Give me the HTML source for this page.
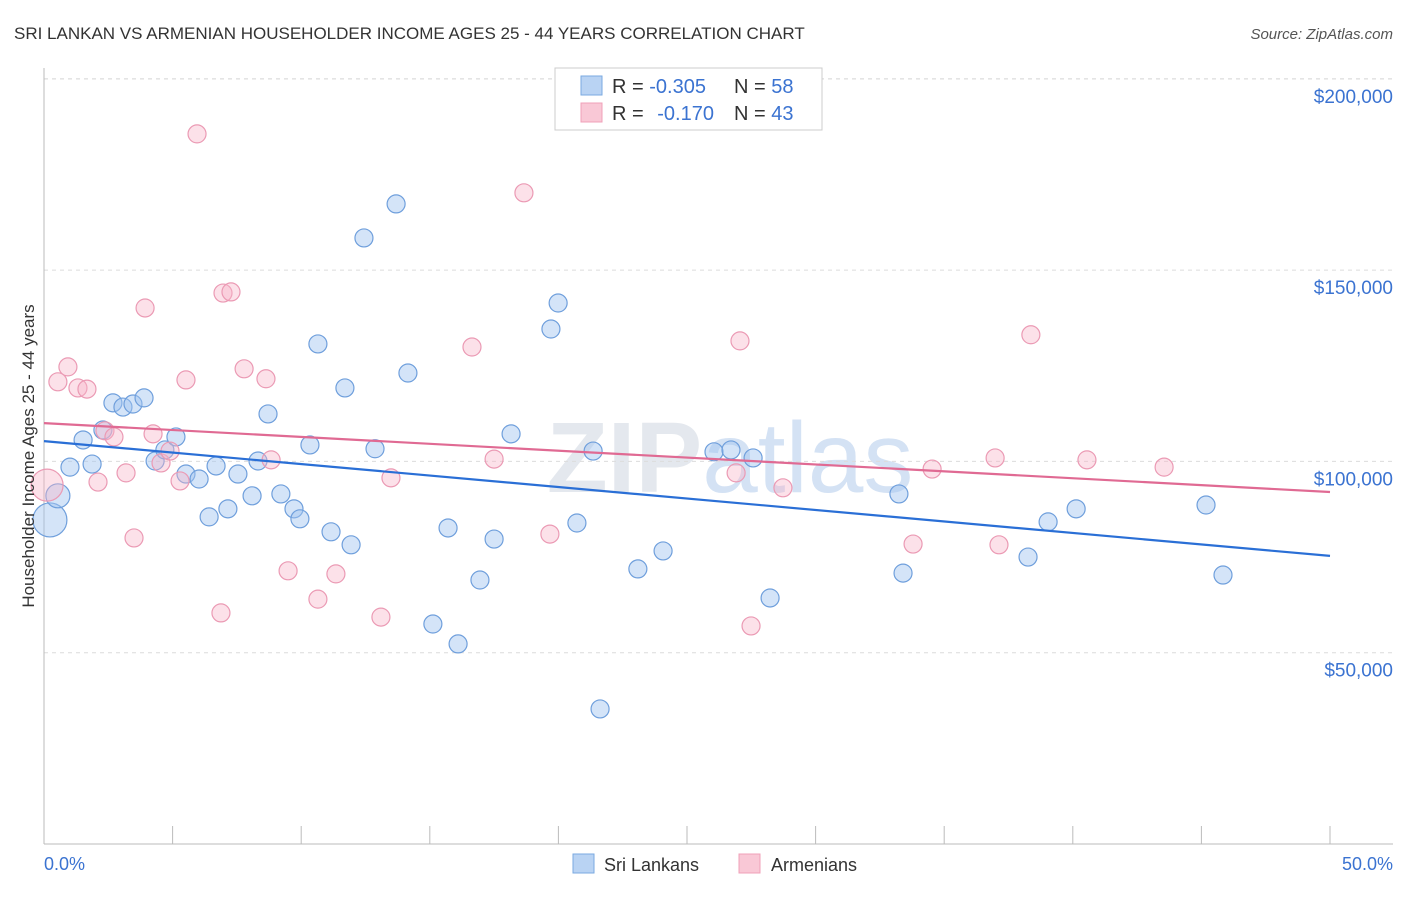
<!DOCTYPE html>
<html><head><meta charset="utf-8"><style>
body{margin:0;background:#fff;font-family:"Liberation Sans",sans-serif;}
svg text{font-family:"Liberation Sans",sans-serif;}
</style></head><body>
<svg id="chart" width="1406" height="892" xmlns="http://www.w3.org/2000/svg">
<text x="14" y="39" font-size="17" fill="#333">SRI LANKAN VS ARMENIAN HOUSEHOLDER INCOME AGES 25 - 44 YEARS CORRELATION CHART</text>
<text x="1393" y="39" font-size="15" fill="#555" font-style="italic" text-anchor="end">Source: ZipAtlas.com</text>
<text x="730" y="492" font-size="100" fill="#e4e8ee" font-weight="bold" text-anchor="middle">ZIP<tspan fill="#d4e2f4" font-weight="normal">atlas</tspan></text>
<g id="grid"></g>
<g id="marks"></g>
<text transform="translate(34,456) rotate(-90)" font-size="17" fill="#333" text-anchor="middle">Householder Income Ages 25 - 44 years</text>
<text x="44" y="870" font-size="18" fill="#3b73d1">0.0%</text>
<text x="1393" y="870" font-size="18" fill="#3b73d1" text-anchor="end">50.0%</text>
<g>
<rect x="555" y="68" width="267" height="62" fill="#fff" stroke="#ccc"/>
<rect x="581" y="76" width="21" height="19" fill="#b9d3f3" stroke="#7aaae0"/>
<rect x="581" y="103" width="21" height="19" fill="#f9c8d6" stroke="#f0a0b8"/>
<text x="612" y="93" font-size="20" fill="#333">R = <tspan fill="#3b73d1">-0.305</tspan><tspan x="734">N = </tspan><tspan fill="#3b73d1">58</tspan></text>
<text x="612" y="120" font-size="20" fill="#333">R = <tspan fill="#3b73d1" dx="8">-0.170</tspan><tspan x="734">N = </tspan><tspan fill="#3b73d1">43</tspan></text>
</g>
<g>
<rect x="573" y="854" width="21" height="19" fill="#b9d3f3" stroke="#7aaae0"/>
<text x="604" y="871" font-size="18" fill="#333">Sri Lankans</text>
<rect x="739" y="854" width="21" height="19" fill="#f9c8d6" stroke="#f0a0b8"/>
<text x="771" y="871" font-size="18" fill="#333">Armenians</text>
</g>
</svg>
<script>
const yTicks=[50000,100000,150000,200000];
const yTickLabels=["$50,000","$100,000","$150,000","$200,000"];
const xTicks=[5,10,15,20,25,30,35,40,45,50];
const blueX=[0.23,0.54,1.01,1.52,1.87,2.29,2.68,3.07,3.46,3.89,4.32,4.70,5.13,5.52,6.03,6.42,6.69,7.15,7.54,8.09,8.32,8.71,9.21,9.72,9.95,10.34,10.65,11.16,11.70,11.94,12.44,12.87,13.69,14.15,15.12,15.71,16.10,16.95,17.50,18.16,19.71,19.99,20.72,21.35,21.62,23.09,24.07,26.05,26.71,27.57,28.23,33.24,33.40,38.26,39.04,40.13,45.18,45.84];
const blueY=[84.7,91.0,98.5,105.6,99.3,108.2,115.3,114.2,115.0,116.6,100.1,103.0,106.4,96.7,95.4,85.5,98.8,87.6,96.7,91.0,100.1,112.4,91.5,87.6,85.0,104.3,130.7,81.6,119.2,78.2,158.4,103.3,167.3,123.1,57.5,82.6,52.3,69.0,79.7,107.2,134.6,141.4,83.9,102.7,35.3,71.9,76.6,102.5,103.0,100.9,64.3,91.5,70.8,75.0,84.2,87.6,88.6,70.3];
const pinkX=[0.12,0.54,0.93,1.32,1.67,2.10,2.37,2.72,3.19,3.50,3.93,4.24,4.55,4.90,5.29,5.52,5.95,6.88,6.96,7.27,7.78,8.63,8.83,9.49,10.65,11.35,13.10,13.49,16.64,17.50,18.66,19.67,26.91,27.06,27.49,28.73,33.79,34.53,36.98,37.13,38.37,40.55,43.55];
const pinkY=[93.8,120.8,124.7,119.2,118.9,94.6,108.0,106.4,97.0,80.0,140.1,107.2,99.6,102.7,94.9,121.3,185.6,60.4,144.0,144.3,124.2,121.6,100.4,71.4,64.0,70.6,59.3,95.7,129.9,100.6,170.2,81.0,97.0,131.5,57.0,93.1,78.4,98.0,100.9,78.2,133.1,100.4,98.5];
const blueTrend=[105.3,75.3];
const pinkTrend=[110.0,92.0];
const NS="http://www.w3.org/2000/svg";
const xs=v=>44+v/50*1286;
const ys=v=>844-v/50000*191.3;
const gridG=document.getElementById('grid'),marksG=document.getElementById('marks');
function mk(tag,attrs,parent){const e=document.createElementNS(NS,tag);for(const k in attrs)e.setAttribute(k,attrs[k]);parent.appendChild(e);return e;}
yTicks.forEach((t,i)=>{
 const l=mk('line',{x1:44,x2:1393,y1:ys(t),y2:ys(t),stroke:'#dcdcdc','stroke-dasharray':'4,4'},gridG);
 
 
 const tx=mk('text',{x:1393,y:ys(t)+24,'font-size':19,fill:'#3b73d1','text-anchor':'end'},gridG);
 tx.textContent=yTickLabels[i];
 
 
});
const topGrid=mk('line',{x1:44,x2:1393,y1:79,y2:79,stroke:'#dcdcdc','stroke-dasharray':'4,4'},gridG);


const yAxisLine=mk('line',{x1:44,x2:44,y1:68,y2:844,stroke:'#bbb'},gridG);


const xAxisLine=mk('line',{x1:44,x2:1393,y1:844,y2:844,stroke:'#bbb'},gridG);


xTicks.forEach(t=>{
 const l=mk('line',{x1:xs(t),x2:xs(t),y1:826,y2:844,stroke:'#bbb'},gridG);
 
 
});
function dots(X,Y,big,fill,stroke,name){
 X.forEach((x,i)=>{
  const r=big[i]||9;
  const c=mk('circle',{cx:xs(x),cy:ys(Y[i]*1000),r:r,fill:fill,stroke:stroke,'stroke-width':1.2},marksG);
  
  
 });
}
dots(blueX,blueY,[17,12],'rgba(160,196,240,0.45)','#6f9fdc','sri-lankan-point');
dots(pinkX,pinkY,[16],'rgba(248,180,200,0.4)','#eb9ab4','armenian-point');
const bl=mk('line',{x1:xs(0),x2:xs(50),y1:ys(blueTrend[0]*1000),y2:ys(blueTrend[1]*1000),stroke:'#2a6fd6','stroke-width':2.2},marksG);


const pl=mk('line',{x1:xs(0),x2:xs(50),y1:ys(pinkTrend[0]*1000),y2:ys(pinkTrend[1]*1000),stroke:'#e06a93','stroke-width':2.2},marksG);


</script>
</body></html>
